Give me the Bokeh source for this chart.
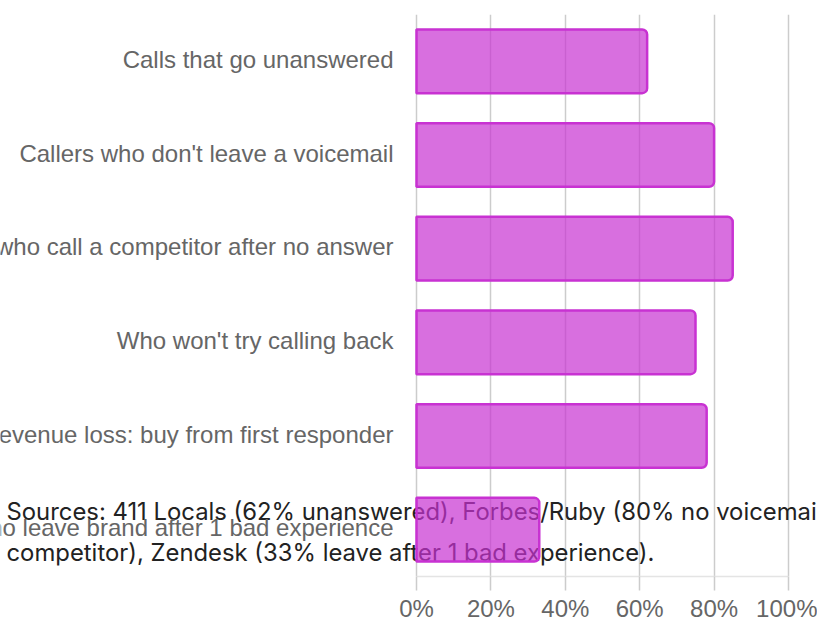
from bokeh.plotting import figure
from bokeh.models import (ColumnDataSource, Range1d, FixedTicker, PrintfTickFormatter)
from bokeh.core.properties import value
from bokeh.embed import file_html
from bokeh.resources import INLINE

# ---- data ----
categories = [
    "Calls that go unanswered",
    "Callers who don't leave a voicemail",
    "Callers who call a competitor after no answer",
    "Who won't try calling back",
    "Revenue loss: buy from first responder",
    "Customers who leave brand after 1 bad experience",
]
values = [62, 80, 85, 75, 78, 33]
x_ticks = [0, 20, 40, 60, 80, 100]
source_lines = [
    "Sources: 411 Locals (62% unanswered), Forbes/Ruby (80% no voicemail, 85% call a",
    "competitor), Zendesk (33% leave after 1 bad experience).",
]

FONT = "Liberation Sans"
NOTE_FONT = "Inter"

# ---- layout (page geometry, not data) ----
W, H = 817, 624
FRAME_TOP, AXIS_H = 14, 47
X0_PX, X100_PX = 416, 788          # where 0% and 100% fall on the page
px_per_unit = (X100_PX - X0_PX) / 100.0
x_start = -X0_PX / px_per_unit
x_end = (W - X0_PX) / px_per_unit
n = len(categories)
slot_px = (H - FRAME_TOP - AXIS_H) / n

ypos = [n - i - 0.5 for i in range(n)]   # first category on top
src = ColumnDataSource(dict(cat=categories, val=values, y=ypos, zero=[0] * n))

p = figure(
    width=W, height=H,
    x_range=Range1d(x_start, x_end), y_range=Range1d(0, n),
    output_backend="svg", toolbar_location=None,
    min_border_left=0, min_border_right=0, min_border_top=FRAME_TOP,
    min_border_bottom=AXIS_H,
)
p.outline_line_color = None
p.background_fill_color = "white"
p.border_fill_color = "white"

# source note (beneath the bars, like the original page)
note_baselines_px = [512, 553]
note_y = [(H - AXIS_H - b) / slot_px for b in note_baselines_px]
p.text(x=[x_start] * 2, y=note_y, text=source_lines, x_offset=6,
       text_font=value(NOTE_FONT), text_font_size="23.85px", text_color="#222222",
       text_baseline="alphabetic", text_align="left")

# category labels, right-aligned just left of the 0% line
p.text(x="zero", y="y", text="cat", source=src, x_offset=-23, y_offset=-2,
       text_align="right", text_baseline="middle", text_font=value(FONT),
       text_font_size="24px", text_color="#666666")

p.hbar(y="y", right="val", left="zero", height=0.68, source=src,
       fill_color="#c832d2", fill_alpha=0.7, line_color="#c832d2", line_width=2.5,
       border_radius=(0, 5, 5, 0))

# grid
p.ygrid.grid_line_color = None
p.xgrid.ticker = FixedTicker(ticks=x_ticks)
p.xgrid.grid_line_color = "#cccccc"
p.xgrid.grid_line_width = 1.5

# x axis
p.xaxis.ticker = FixedTicker(ticks=x_ticks)
p.xaxis.bounds = (0, 100)
p.xaxis.formatter = PrintfTickFormatter(format="%d%%")
p.xaxis.axis_line_color = "#e4e4e4"
p.xaxis.axis_line_width = 1.5
p.xaxis.major_tick_in = 0
p.xaxis.major_tick_out = 14
p.xaxis.major_tick_line_color = "#cccccc"
p.xaxis.major_tick_line_width = 1.5
p.xaxis.minor_tick_line_color = None
p.xaxis.major_label_standoff = 4
p.xaxis.major_label_text_font = FONT
p.xaxis.major_label_text_font_size = "24px"
p.xaxis.major_label_text_color = "#666666"

p.yaxis.visible = False

open("out.html", "w").write(file_html(p, INLINE))
